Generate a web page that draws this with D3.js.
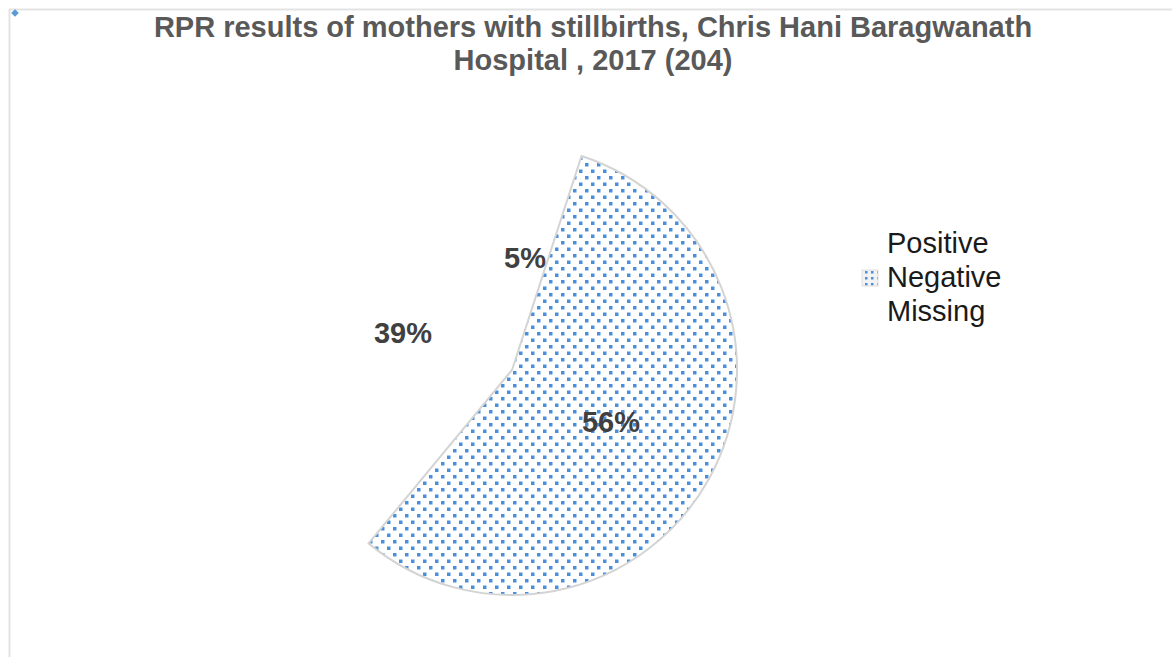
<!DOCTYPE html>
<html><head><meta charset="utf-8">
<script src="https://cdn.jsdelivr.net/npm/d3@7"></script>
<style>body{margin:0;background:#fff}svg{display:block}</style>
</head><body>
<svg id="c" width="1172" height="657"></svg>
<script>
const categories = ["Positive", "Negative", "Missing"];
const values = [5, 56, 39];
const labels = ["5%", "56%", "39%"];
const titleLines = ["RPR results of mothers with stillbirths, Chris Hani Baragwanath", "Hospital , 2017 (204)"];

const svg = d3.select("#c");
const W = 1172, H = 657;
const font = "'Liberation Sans', Arial, sans-serif";

const defs = svg.append("defs");
const pat = defs.append("pattern").attr("id","dots").attr("patternUnits","userSpaceOnUse")
  .attr("width",12).attr("height",13);
pat.append("rect").attr("x",1).attr("y",1).attr("width",3.5).attr("height",3.5).attr("fill","#4a8fdc");
pat.append("rect").attr("x",7).attr("y",7.5).attr("width",3.5).attr("height",3.5).attr("fill","#4a8fdc");
const pat2 = defs.append("pattern").attr("id","dots2").attr("patternUnits","userSpaceOnUse")
  .attr("width",6).attr("height",6);
pat2.append("rect").attr("width",6).attr("height",6).attr("fill","#f2f2f2");
pat2.append("rect").attr("x",1).attr("y",1).attr("width",2.5).attr("height",2.5).attr("fill","#4a8fdc");

// frame
svg.append("line").attr("x1",9).attr("x2",W).attr("y1",9.5).attr("y2",9.5).attr("stroke","#e3e3e3").attr("stroke-width",2);
svg.append("line").attr("x1",9.5).attr("x2",9.5).attr("y1",9).attr("y2",H).attr("stroke","#e3e3e3").attr("stroke-width",2);
svg.append("path").attr("d", d3.symbol(d3.symbolSquare, 30)()).attr("transform","translate(15,13) rotate(45)").attr("fill","#5b9bd5");

// title
svg.append("text").attr("x",593).attr("y",37).attr("text-anchor","middle")
  .attr("font-family",font).attr("font-weight","bold").attr("font-size",29).attr("fill","#595959")
  .selectAll("tspan").data(titleLines).join("tspan").attr("x",593).attr("dy",(d,i)=>i?33:0).text(d=>d);

const cx = 512, cy = 370, R = 225;
const pie = d3.pie().sort(null).value(d=>d)(values);
const arc = d3.arc().innerRadius(0).outerRadius(R);
const g = svg.append("g").attr("transform",`translate(${cx},${cy})`);
g.selectAll("path").data(pie).join("path")
  .attr("d",arc)
  .attr("fill",(d,i)=> i===1 ? "url(#dots)" : "none")
  .attr("stroke",(d,i)=> i===1 ? "#d4d4d4" : "none")
  .attr("stroke-width",2);

const labelPos = [[525,268],[611,432],[403,343]];
svg.selectAll("text.lbl").data(labels).join("text").attr("class","lbl")
  .attr("x",(d,i)=>labelPos[i][0]).attr("y",(d,i)=>labelPos[i][1])
  .attr("text-anchor","middle").attr("font-family",font).attr("font-weight","bold")
  .attr("font-size",29).attr("fill","#404040").text(d=>d);

// legend
const lg = svg.append("g");
categories.forEach((c,i)=>{
  const y = 253 + i*34;
  lg.append("text").attr("x",887).attr("y",y).attr("font-family",font).attr("font-size",29)
    .attr("fill","#1a1a1a").text(c);
  if(i===1){
    lg.append("rect").attr("x",862).attr("y",y-17).attr("width",16).attr("height",16)
      .attr("fill","url(#dots2)").attr("stroke","#e0e0e0");
  }
});
</script>
</body></html>
